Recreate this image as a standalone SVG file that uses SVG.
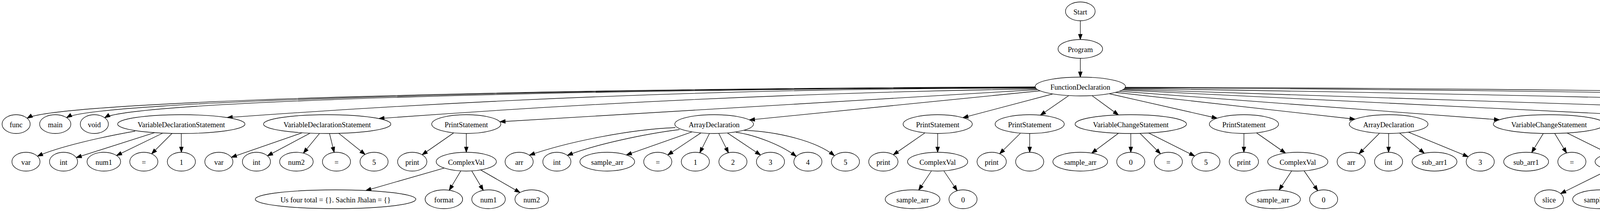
<svg xmlns="http://www.w3.org/2000/svg" width="7774" height="539" viewBox="0 0 7774 539">
<style>
.node ellipse{fill:#fff;stroke:#000;stroke-width:1.33}
.node text{font-family:"Liberation Serif","Times New Roman",serif;font-size:18.67px;text-anchor:middle;fill:#000}
#edges path{fill:none;stroke:#000;stroke-width:1.33;marker-end:url(#ah)}
</style>
<defs>
<marker id="ah" viewBox="0 0 14 10" refX="13.33" refY="4.67" markerWidth="14" markerHeight="10" markerUnits="userSpaceOnUse" orient="auto" style="overflow:visible">
<path d="M0,0 L13.33,4.67 L0,9.33 Z" fill="#000" stroke="#000" stroke-width="1.33"/>
</marker>
</defs>
<rect width="7774" height="539" fill="#fff"/>
<g id="edges">
<path d="M2765.6,53 L2765.6,101"/>
<path d="M2765.6,149 L2765.6,197"/>
<path d="M2650.1,222 C1359.8,226 146.9,258 69.5,302"/>
<path d="M2650.5,223 C1410.5,226.9 244.9,257.9 170.5,300.5"/>
<path d="M2651,224 C1459.5,227.8 339.5,258.6 268,300.8"/>
<path d="M2651.7,225 C1961.6,225 1271.6,250.1 581.5,300.4"/>
<path d="M2653.8,227 C2092.5,235.9 1531.3,261.2 970,302.9"/>
<path d="M2656.7,229 L1280,311"/>
<path d="M2662.9,232 L1918.5,306.4"/>
<path d="M2695,240 L2465,300.7"/>
<path d="M2736,244.3 L2663.4,294.2"/>
<path d="M2795.5,244.3 L2863.2,293.6"/>
<path d="M2840,239.5 L3116,302"/>
<path d="M2855.8,236 L3469,304.5"/>
<path d="M2865.6,233 L3838.7,306"/>
<path d="M2872.7,230 L4529,311.2"/>
<path d="M2876.1,228 L5487.5,313.5"/>
<path d="M2878.6,226 C3995.7,242 5112.9,271.2 6230,313.5"/>
<path d="M2879.9,224.5 C4119.1,228.6 5358.2,255.7 6597.4,306"/>
<path d="M2880.7,223 C4314.6,225.7 5748.6,253.5 7182.5,306.2"/>
<path d="M346,335 C260,350 150,375 96,399"/>
<path d="M395.7,338.8 L195.2,402.7"/>
<path d="M416.7,340 L298.3,397.3"/>
<path d="M440.4,340.7 L388.1,393"/>
<path d="M464.1,341 L464.3,389"/>
<path d="M773.8,339.1 L592.3,401.9"/>
<path d="M794,340.1 L684.7,398.1"/>
<path d="M818,340.8 L776.7,391.2"/>
<path d="M843.5,341 L855.5,389.3"/>
<path d="M867.1,340.6 L934.6,394.6"/>
<path d="M1161.5,339.4 L1080.7,395.4"/>
<path d="M1193.7,341 L1193.7,389"/>
<path d="M1729,326 C1620,330 1460,360 1355.5,396.4"/>
<path d="M1739.5,331 C1650,342 1520,370 1452.6,397"/>
<path d="M1771.6,336.9 L1603.5,395.8"/>
<path d="M1794.2,339.6 L1709.4,396"/>
<path d="M1816.3,340.8 L1791.5,390.2"/>
<path d="M1840.1,340.8 L1864.9,390.2"/>
<path d="M1862.2,339.6 L1946.9,396"/>
<path d="M1884,338 C1930,344 2000,370 2038.3,399.6"/>
<path d="M1905,333 C1990,336 2090,360 2136,397.7"/>
<path d="M2368.1,339.3 L2286.9,395.4"/>
<path d="M2400.5,341 L2400.3,389"/>
<path d="M2612.5,340.1 L2559.1,392.9"/>
<path d="M2636,341 L2636,389"/>
<path d="M2863.3,340.4 L2794.8,391.2"/>
<path d="M2894.8,341 L2894.8,389"/>
<path d="M2918.5,340.7 L2971,393"/>
<path d="M2940.4,339.7 L3058.3,398.6"/>
<path d="M3184.5,341 L3184.3,389"/>
<path d="M3216.6,339.4 L3290.9,391.1"/>
<path d="M3531.6,340.3 L3479,393"/>
<path d="M3554.9,341 L3554.7,389"/>
<path d="M3583.1,340 L3646.2,391.6"/>
<path d="M3605.6,337.7 L3758.7,400.4"/>
<path d="M3950.9,340.9 L3921.1,389.7"/>
<path d="M3980,340.9 L4010.5,390.8"/>
<path d="M4011.6,339.7 L4119.2,392.7"/>
<path d="M4560,332 C4470,345 4370,372 4322.5,396.5"/>
<path d="M4576.1,337.8 L4423.2,400.4"/>
<path d="M4598.5,340 L4535.2,391.6"/>
<path d="M4626.7,341 L4626.7,389"/>
<path d="M4650.4,340.3 L4703.9,393"/>
<path d="M4676.3,337.9 L4810.7,394.4"/>
<path d="M4707.5,331.7 C4780,342 4890,368 4957.2,397.1"/>
<path d="M4709.6,330 C4830,348 4980,372 5066.1,396"/>
<path d="M5511,333 C5440,345 5330,375 5284,398"/>
<path d="M5536.3,337.7 L5382.9,400.5"/>
<path d="M5558.8,340 L5495.7,391.6"/>
<path d="M5587,341 L5586.8,389"/>
<path d="M5610.6,340.3 L5663.9,392.9"/>
<path d="M5636.5,337.9 L5770.4,394.4"/>
<path d="M5660,332 L5929.2,396.6"/>
<path d="M5685,325 C5800,334 5980,360 6094.2,397.4"/>
<path d="M6268.6,340 L6233.8,391.1"/>
<path d="M6299.9,340 L6333.5,389.6"/>
<path d="M6320.7,335 L6450,398.7"/>
<path d="M6703.1,340.2 L6602.4,397.4"/>
<path d="M6727.4,340.9 L6692.8,390.6"/>
<path d="M6760.9,340.9 L6795.5,389.7"/>
<path d="M6791,340 L6911.3,398.8"/>
<path d="M6813.9,338.7 L7009.5,399.4"/>
<path d="M7289,340.3 L7193.6,397"/>
<path d="M7313.6,340.9 L7283.4,390.3"/>
<path d="M7343.1,340.9 L7373.7,389.9"/>
<path d="M7369.7,340.2 L7472.4,397.6"/>
<path d="M7397.8,338.7 L7581.6,396"/>
<path d="M1137,429.3 L936.5,486.8"/>
<path d="M1179.6,436.6 L1150.1,486"/>
<path d="M1207.7,436.6 L1237.2,486.2"/>
<path d="M1230.5,434.1 L1331.2,491.8"/>
<path d="M2384.6,436.5 L2351.8,485.6"/>
<path d="M2416.2,436.5 L2450.5,487.1"/>
<path d="M3306.8,436.5 L3274.4,485.6"/>
<path d="M3338.5,436.5 L3373.5,487.2"/>
<path d="M4119.3,433.3 L3995.2,494.5"/>
<path d="M4144.7,436.5 L4111.8,485.6"/>
<path d="M4176.4,436.5 L4210.8,487.1"/>
<path d="M4196.2,434.3 L4295,493"/>
<path d="M5104.6,436.5 L5070.7,487.1"/>
<path d="M5136.2,436.5 L5169.6,485.6"/>
<path d="M5969.3,436.5 L5934.1,487.1"/>
<path d="M6001.5,436.5 L6035,485.6"/>
<path d="M7606.5,435.2 L7537.2,487.2"/>
<path d="M7636,437 L7636.4,485"/>
<path d="M7659,435.9 L7712.5,489.1"/>
</g>
<g id="n0" class="node"><ellipse cx="2765.6" cy="29" rx="38" ry="24"/><text x="2765.6" y="36.6">Start</text></g>
<g id="n1" class="node"><ellipse cx="2765.6" cy="125" rx="57" ry="24"/><text x="2765.6" y="132.6">Program</text></g>
<g id="n2" class="node"><ellipse cx="2765.6" cy="221" rx="115.5" ry="24"/><text x="2765.6" y="228.6">FunctionDeclaration</text></g>
<g id="n3" class="node"><ellipse cx="41.3" cy="317" rx="36" ry="24"/><text x="41.3" y="324.6">func</text></g>
<g id="n4" class="node"><ellipse cx="141.4" cy="317" rx="40" ry="24"/><text x="141.4" y="324.6">main</text></g>
<g id="n5" class="node"><ellipse cx="241.5" cy="317" rx="36" ry="24"/><text x="241.5" y="324.6">void</text></g>
<g id="n6" class="node"><ellipse cx="464.1" cy="317" rx="163" ry="24"/><text x="464.1" y="324.6">VariableDeclarationStatement</text></g>
<g id="n7" class="node"><ellipse cx="837.6" cy="317" rx="163" ry="24"/><text x="837.6" y="324.6">VariableDeclarationStatement</text></g>
<g id="n8" class="node"><ellipse cx="1193.7" cy="317" rx="88.5" ry="24"/><text x="1193.7" y="324.6">PrintStatement</text></g>
<g id="n9" class="node"><ellipse cx="1828.2" cy="317" rx="100.7" ry="24"/><text x="1828.2" y="324.6">ArrayDeclaration</text></g>
<g id="n10" class="node"><ellipse cx="2400.5" cy="317" rx="88.5" ry="24"/><text x="2400.5" y="324.6">PrintStatement</text></g>
<g id="n11" class="node"><ellipse cx="2636" cy="317" rx="88.5" ry="24"/><text x="2636" y="324.6">PrintStatement</text></g>
<g id="n12" class="node"><ellipse cx="2894.8" cy="317" rx="142.6" ry="24"/><text x="2894.8" y="324.6">VariableChangeStatement</text></g>
<g id="n13" class="node"><ellipse cx="3184.5" cy="317" rx="88.5" ry="24"/><text x="3184.5" y="324.6">PrintStatement</text></g>
<g id="n14" class="node"><ellipse cx="3554.9" cy="317" rx="100.7" ry="24"/><text x="3554.9" y="324.6">ArrayDeclaration</text></g>
<g id="n15" class="node"><ellipse cx="3965.5" cy="317" rx="142.6" ry="24"/><text x="3965.5" y="324.6">VariableChangeStatement</text></g>
<g id="n16" class="node"><ellipse cx="4626.7" cy="317" rx="100.7" ry="24"/><text x="4626.7" y="324.6">ArrayDeclaration</text></g>
<g id="n17" class="node"><ellipse cx="5587" cy="317" rx="100.7" ry="24"/><text x="5587" y="324.6">ArrayDeclaration</text></g>
<g id="n18" class="node"><ellipse cx="6284.3" cy="317" rx="55" ry="24"/><text x="6284.3" y="324.6">ConsOp</text></g>
<g id="n19" class="node"><ellipse cx="6744" cy="317" rx="163" ry="24"/><text x="6744" y="324.6">VariableDeclarationStatement</text></g>
<g id="n20" class="node"><ellipse cx="7328.2" cy="317" rx="163" ry="24"/><text x="7328.2" y="324.6">VariableDeclarationStatement</text></g>
<g id="n21" class="node"><ellipse cx="66.5" cy="413" rx="36" ry="24"/><text x="66.5" y="420.6">var</text></g>
<g id="n22" class="node"><ellipse cx="162.7" cy="413" rx="36" ry="24"/><text x="162.7" y="420.6">int</text></g>
<g id="n23" class="node"><ellipse cx="265.8" cy="413" rx="43" ry="24"/><text x="265.8" y="420.6">num1</text></g>
<g id="n24" class="node"><ellipse cx="368.2" cy="413" rx="36" ry="24"/><text x="368.2" y="420.6">=</text></g>
<g id="n25" class="node"><ellipse cx="464.3" cy="413" rx="36" ry="24"/><text x="464.3" y="420.6">1</text></g>
<g id="n26" class="node"><ellipse cx="560.3" cy="413" rx="36" ry="24"/><text x="560.3" y="420.6">var</text></g>
<g id="n27" class="node"><ellipse cx="656.5" cy="413" rx="36" ry="24"/><text x="656.5" y="420.6">int</text></g>
<g id="n28" class="node"><ellipse cx="758.8" cy="413" rx="43" ry="24"/><text x="758.8" y="420.6">num2</text></g>
<g id="n29" class="node"><ellipse cx="861.4" cy="413" rx="36" ry="24"/><text x="861.4" y="420.6">=</text></g>
<g id="n30" class="node"><ellipse cx="957.6" cy="413" rx="36" ry="24"/><text x="957.6" y="420.6">5</text></g>
<g id="n31" class="node"><ellipse cx="1055.3" cy="413" rx="37.5" ry="24"/><text x="1055.3" y="420.6">print</text></g>
<g id="n32" class="node"><ellipse cx="1193.7" cy="413" rx="77" ry="24"/><text x="1193.7" y="420.6">ComplexVal</text></g>
<g id="n33" class="node"><ellipse cx="1329" cy="413" rx="36" ry="24"/><text x="1329" y="420.6">arr</text></g>
<g id="n34" class="node"><ellipse cx="1425.6" cy="413" rx="36" ry="24"/><text x="1425.6" y="420.6">int</text></g>
<g id="n35" class="node"><ellipse cx="1554.6" cy="413" rx="70" ry="24"/><text x="1554.6" y="420.6">sample_arr</text></g>
<g id="n36" class="node"><ellipse cx="1683.9" cy="413" rx="36" ry="24"/><text x="1683.9" y="420.6">=</text></g>
<g id="n37" class="node"><ellipse cx="1780.1" cy="413" rx="36" ry="24"/><text x="1780.1" y="420.6">1</text></g>
<g id="n38" class="node"><ellipse cx="1876.3" cy="413" rx="36" ry="24"/><text x="1876.3" y="420.6">2</text></g>
<g id="n39" class="node"><ellipse cx="1972.4" cy="413" rx="36" ry="24"/><text x="1972.4" y="420.6">3</text></g>
<g id="n40" class="node"><ellipse cx="2068.2" cy="413" rx="36" ry="24"/><text x="2068.2" y="420.6">4</text></g>
<g id="n41" class="node"><ellipse cx="2164.3" cy="413" rx="36" ry="24"/><text x="2164.3" y="420.6">5</text></g>
<g id="n42" class="node"><ellipse cx="2261.4" cy="413" rx="37.5" ry="24"/><text x="2261.4" y="420.6">print</text></g>
<g id="n43" class="node"><ellipse cx="2400.3" cy="413" rx="77" ry="24"/><text x="2400.3" y="420.6">ComplexVal</text></g>
<g id="n44" class="node"><ellipse cx="2538.7" cy="413" rx="37.5" ry="24"/><text x="2538.7" y="420.6">print</text></g>
<g id="n45" class="node"><ellipse cx="2636" cy="413" rx="36" ry="24"/></g>
<g id="n46" class="node"><ellipse cx="2765.4" cy="413" rx="70" ry="24"/><text x="2765.4" y="420.6">sample_arr</text></g>
<g id="n47" class="node"><ellipse cx="2894.8" cy="413" rx="36" ry="24"/><text x="2894.8" y="420.6">0</text></g>
<g id="n48" class="node"><ellipse cx="2991" cy="413" rx="36" ry="24"/><text x="2991" y="420.6">=</text></g>
<g id="n49" class="node"><ellipse cx="3087.1" cy="413" rx="36" ry="24"/><text x="3087.1" y="420.6">5</text></g>
<g id="n50" class="node"><ellipse cx="3184.3" cy="413" rx="37.5" ry="24"/><text x="3184.3" y="420.6">print</text></g>
<g id="n51" class="node"><ellipse cx="3322.3" cy="413" rx="77" ry="24"/><text x="3322.3" y="420.6">ComplexVal</text></g>
<g id="n52" class="node"><ellipse cx="3459" cy="413" rx="36" ry="24"/><text x="3459" y="420.6">arr</text></g>
<g id="n53" class="node"><ellipse cx="3554.7" cy="413" rx="36" ry="24"/><text x="3554.7" y="420.6">int</text></g>
<g id="n54" class="node"><ellipse cx="3672.3" cy="413" rx="57.4" ry="24"/><text x="3672.3" y="420.6">sub_arr1</text></g>
<g id="n55" class="node"><ellipse cx="3789.4" cy="413" rx="36" ry="24"/><text x="3789.4" y="420.6">3</text></g>
<g id="n56" class="node"><ellipse cx="3906.9" cy="413" rx="57.4" ry="24"/><text x="3906.9" y="420.6">sub_arr1</text></g>
<g id="n57" class="node"><ellipse cx="4024" cy="413" rx="36" ry="24"/><text x="4024" y="420.6">=</text></g>
<g id="n58" class="node"><ellipse cx="4160.4" cy="413" rx="77" ry="24"/><text x="4160.4" y="420.6">ComplexVal</text></g>
<g id="n59" class="node"><ellipse cx="4296.4" cy="413" rx="36" ry="24"/><text x="4296.4" y="420.6">arr</text></g>
<g id="n60" class="node"><ellipse cx="4392.5" cy="413" rx="36" ry="24"/><text x="4392.5" y="420.6">int</text></g>
<g id="n61" class="node"><ellipse cx="4509" cy="413" rx="57.4" ry="24"/><text x="4509" y="420.6">sub_arr2</text></g>
<g id="n62" class="node"><ellipse cx="4626.7" cy="413" rx="36" ry="24"/><text x="4626.7" y="420.6">=</text></g>
<g id="n63" class="node"><ellipse cx="4724.3" cy="413" rx="37" ry="24"/><text x="4724.3" y="420.6">slice</text></g>
<g id="n64" class="node"><ellipse cx="4854.9" cy="413" rx="70" ry="24"/><text x="4854.9" y="420.6">sample_arr</text></g>
<g id="n65" class="node"><ellipse cx="4984.1" cy="413" rx="36" ry="24"/><text x="4984.1" y="420.6">3</text></g>
<g id="n66" class="node"><ellipse cx="5120.3" cy="413" rx="77" ry="24"/><text x="5120.3" y="420.6">ComplexVal</text></g>
<g id="n67" class="node"><ellipse cx="5256" cy="413" rx="36" ry="24"/><text x="5256" y="420.6">arr</text></g>
<g id="n68" class="node"><ellipse cx="5352.2" cy="413" rx="36" ry="24"/><text x="5352.2" y="420.6">int</text></g>
<g id="n69" class="node"><ellipse cx="5469.5" cy="413" rx="57.4" ry="24"/><text x="5469.5" y="420.6">sub_arr3</text></g>
<g id="n70" class="node"><ellipse cx="5586.8" cy="413" rx="36" ry="24"/><text x="5586.8" y="420.6">=</text></g>
<g id="n71" class="node"><ellipse cx="5684.2" cy="413" rx="37" ry="24"/><text x="5684.2" y="420.6">slice</text></g>
<g id="n72" class="node"><ellipse cx="5814.6" cy="413" rx="70" ry="24"/><text x="5814.6" y="420.6">sample_arr</text></g>
<g id="n73" class="node"><ellipse cx="5985.6" cy="413" rx="77" ry="24"/><text x="5985.6" y="420.6">ComplexVal</text></g>
<g id="n74" class="node"><ellipse cx="6121.6" cy="413" rx="36" ry="24"/><text x="6121.6" y="420.6">3</text></g>
<g id="n75" class="node"><ellipse cx="6218.8" cy="413" rx="37" ry="24"/><text x="6218.8" y="420.6">cons</text></g>
<g id="n76" class="node"><ellipse cx="6349.4" cy="413" rx="70" ry="24"/><text x="6349.4" y="420.6">sample_arr</text></g>
<g id="n77" class="node"><ellipse cx="6478.9" cy="413" rx="36" ry="24"/><text x="6478.9" y="420.6">0</text></g>
<g id="n78" class="node"><ellipse cx="6575" cy="413" rx="36" ry="24"/><text x="6575" y="420.6">var</text></g>
<g id="n79" class="node"><ellipse cx="6677.2" cy="413" rx="43" ry="24"/><text x="6677.2" y="420.6">string</text></g>
<g id="n80" class="node"><ellipse cx="6812" cy="413" rx="68.6" ry="24"/><text x="6812" y="420.6">sample_str</text></g>
<g id="n81" class="node"><ellipse cx="6940.3" cy="413" rx="36" ry="24"/><text x="6940.3" y="420.6">=</text></g>
<g id="n82" class="node"><ellipse cx="7053.5" cy="413" rx="53.5" ry="24"/><text x="7053.5" y="420.6">abcdefg</text></g>
<g id="n83" class="node"><ellipse cx="7166.7" cy="413" rx="36" ry="24"/><text x="7166.7" y="420.6">var</text></g>
<g id="n84" class="node"><ellipse cx="7269.5" cy="413" rx="43" ry="24"/><text x="7269.5" y="420.6">string</text></g>
<g id="n85" class="node"><ellipse cx="7388.1" cy="413" rx="52" ry="24"/><text x="7388.1" y="420.6">sub_Str</text></g>
<g id="n86" class="node"><ellipse cx="7500" cy="413" rx="36" ry="24"/><text x="7500" y="420.6">=</text></g>
<g id="n87" class="node"><ellipse cx="7636" cy="413" rx="77" ry="24"/><text x="7636" y="420.6">ComplexVal</text></g>
<g id="n88" class="node"><ellipse cx="859" cy="509" rx="205.6" ry="24"/><text x="859" y="516.6">Us four total = {}. Sachin Jhalan = {}</text></g>
<g id="n89" class="node"><ellipse cx="1136.3" cy="509" rx="48" ry="24"/><text x="1136.3" y="516.6">format</text></g>
<g id="n90" class="node"><ellipse cx="1250.7" cy="509" rx="43" ry="24"/><text x="1250.7" y="516.6">num1</text></g>
<g id="n91" class="node"><ellipse cx="1361.2" cy="509" rx="43" ry="24"/><text x="1361.2" y="516.6">num2</text></g>
<g id="n92" class="node"><ellipse cx="2336.2" cy="509" rx="70" ry="24"/><text x="2336.2" y="516.6">sample_arr</text></g>
<g id="n93" class="node"><ellipse cx="2465.3" cy="509" rx="36" ry="24"/><text x="2465.3" y="516.6">0</text></g>
<g id="n94" class="node"><ellipse cx="3259" cy="509" rx="70" ry="24"/><text x="3259" y="516.6">sample_arr</text></g>
<g id="n95" class="node"><ellipse cx="3388.5" cy="509" rx="36" ry="24"/><text x="3388.5" y="516.6">0</text></g>
<g id="n96" class="node"><ellipse cx="3965.7" cy="509" rx="37" ry="24"/><text x="3965.7" y="516.6">slice</text></g>
<g id="n97" class="node"><ellipse cx="4096.1" cy="509" rx="70" ry="24"/><text x="4096.1" y="516.6">sample_arr</text></g>
<g id="n98" class="node"><ellipse cx="4225.7" cy="509" rx="36" ry="24"/><text x="4225.7" y="516.6">2</text></g>
<g id="n99" class="node"><ellipse cx="4321.9" cy="509" rx="36" ry="24"/><text x="4321.9" y="516.6">4</text></g>
<g id="n100" class="node"><ellipse cx="5056" cy="509" rx="36" ry="24"/><text x="5056" y="516.6">tail</text></g>
<g id="n101" class="node"><ellipse cx="5185.5" cy="509" rx="70" ry="24"/><text x="5185.5" y="516.6">sample_arr</text></g>
<g id="n102" class="node"><ellipse cx="5918.8" cy="509" rx="37.7" ry="24"/><text x="5918.8" y="516.6">head</text></g>
<g id="n103" class="node"><ellipse cx="6050.9" cy="509" rx="70" ry="24"/><text x="6050.9" y="516.6">sample_arr</text></g>
<g id="n104" class="node"><ellipse cx="7508.3" cy="509" rx="68.6" ry="24"/><text x="7508.3" y="516.6">sample_str</text></g>
<g id="n105" class="node"><ellipse cx="7636.4" cy="509" rx="36" ry="24"/><text x="7636.4" y="516.6">2</text></g>
<g id="n106" class="node"><ellipse cx="7732.6" cy="509" rx="36" ry="24"/><text x="7732.6" y="516.6">5</text></g>
</svg>
